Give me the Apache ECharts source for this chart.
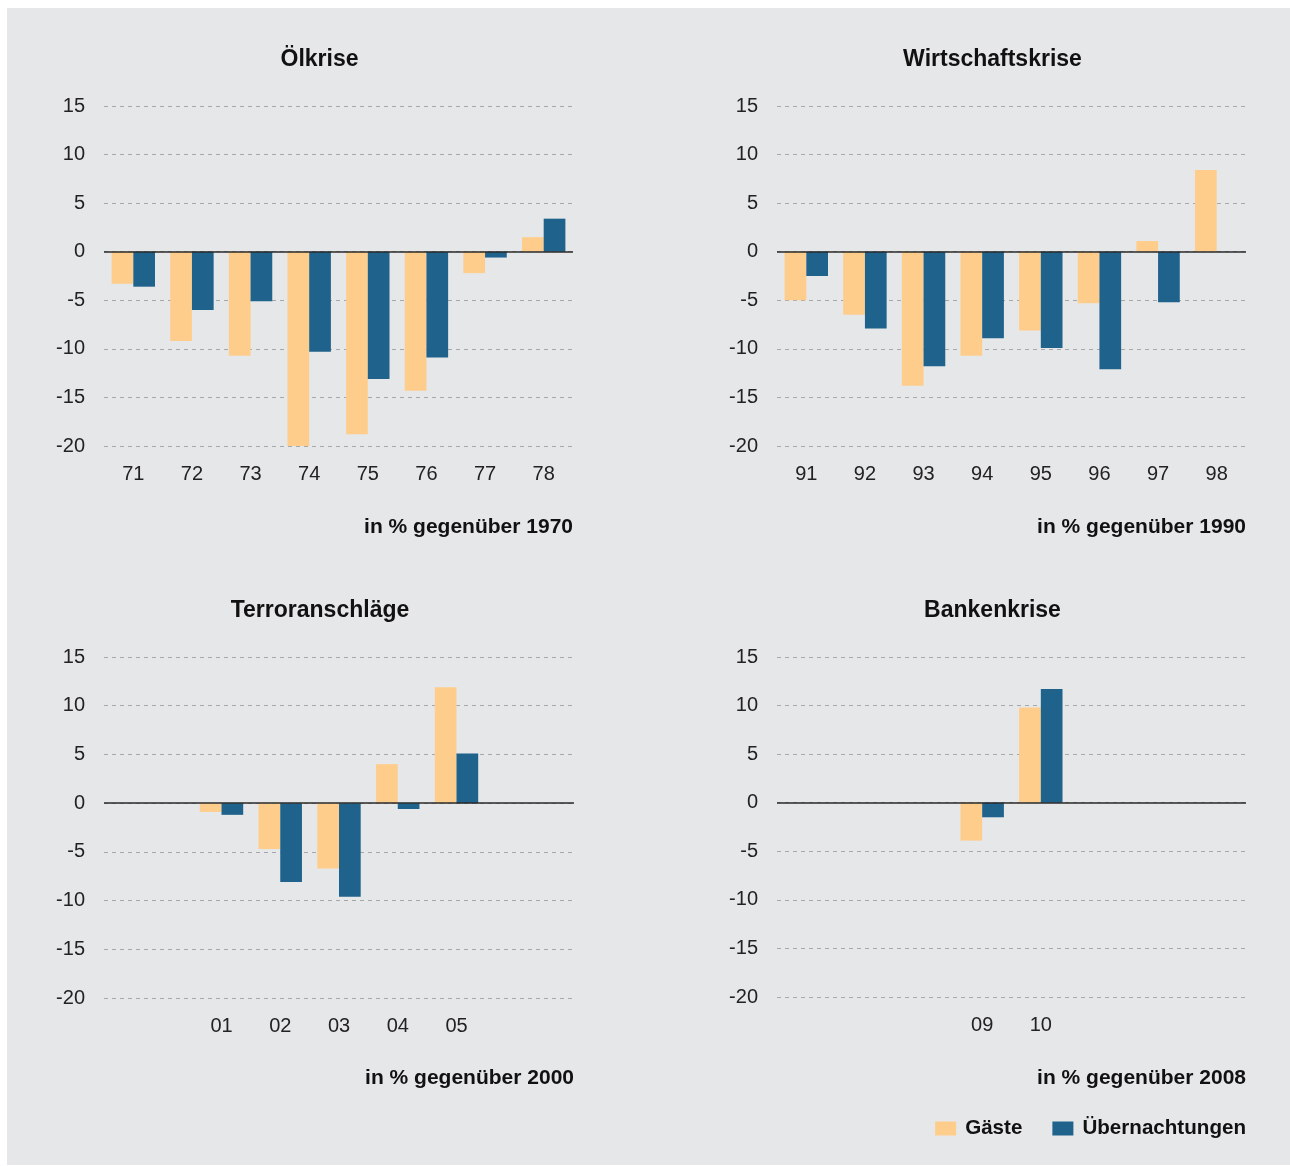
<!DOCTYPE html>
<html>
<head>
<meta charset="utf-8">
<script src="https://cdn.jsdelivr.net/npm/echarts@6/dist/echarts.min.js"></script>
<style>
  html, body { margin: 0; padding: 0; background: #fff; }
  #bg { position: absolute; left: 7px; top: 8px; width: 1283px; height: 1157px; background: #e6e7e9; }
  #main { position: absolute; left: 0; top: 0; width: 1290px; height: 1166px; }
</style>
</head>
<body>
<div id="bg"></div>
<div id="main"></div>
<script>
// Veränderung Gäste / Übernachtungen in vier Krisen
var jahre1 = ['71', '72', '73', '74', '75', '76', '77', '78'];
var gaeste1 = [-3.3, -9.2, -10.7, -20.0, -18.8, -14.3, -2.2, 1.5];
var naechte1 = [-3.6, -6.0, -5.1, -10.3, -13.1, -10.9, -0.6, 3.4];

var jahre2 = ['91', '92', '93', '94', '95', '96', '97', '98'];
var gaeste2 = [-5.0, -6.5, -13.8, -10.7, -8.1, -5.3, 1.1, 8.4];
var naechte2 = [-2.5, -7.9, -11.8, -8.9, -9.9, -12.1, -5.2, 0];

var jahre3 = ['99', '00', '01', '02', '03', '04', '05', '06', '07'];
var gaeste3 = [null, null, -0.9, -4.7, -6.7, 4.0, 11.9, null, null];
var naechte3 = [null, null, -1.2, -8.1, -9.6, -0.6, 5.1, null, null];

var jahre4 = ['06', '07', '08', '09', '10', '11', '12', '13'];
var gaeste4 = [null, null, null, -3.9, 9.8, null, null, null];
var naechte4 = [null, null, null, -1.5, 11.7, null, null, null];

var sichtbar3 = ['01', '02', '03', '04', '05'];
var sichtbar4 = ['09', '10'];

var titel = ['Ölkrise', 'Wirtschaftskrise', 'Terroranschläge', 'Bankenkrise'];
var fussnoten = ['in % gegenüber 1970', 'in % gegenüber 1990', 'in % gegenüber 2000', 'in % gegenüber 2008'];
var yMin = -20, yMax = 15, yStep = 5;

var FONT = '"Liberation Sans", Arial, sans-serif';
var FARBE_G = '#fecd8b';
var FARBE_U = '#1f628b';

var myChart = echarts.init(document.getElementById('main'));

var grids = [
    { left: 104, top: 106, width: 469, height: 340 },
    { left: 777, top: 106, width: 469, height: 340 },
    { left: 104, top: 657, width: 470, height: 341 },
    { left: 777, top: 657, width: 469, height: 340 }
];
var kategorien = [jahre1, jahre2, jahre3, jahre4];
var gaeste = [gaeste1, gaeste2, gaeste3, gaeste4];
var naechte = [naechte1, naechte2, naechte3, naechte4];
var sichtbar = [null, null, sichtbar3, sichtbar4];

var xAxes = [], yAxes = [], series = [], graphics = [];

grids.forEach(function (g, i) {
    xAxes.push({
        type: 'category',
        gridIndex: i,
        data: kategorien[i],
        boundaryGap: i !== 2,
        axisLine: { show: false },
        axisTick: { show: false },
        axisLabel: {
            interval: 0,
            margin: 18,
            fontSize: 20,
            fontFamily: FONT,
            color: '#222',
            formatter: function (v) {
                if (sichtbar[i] && sichtbar[i].indexOf(v) < 0) return '';
                return v;
            }
        },
        splitLine: { show: false }
    });
    yAxes.push({
        type: 'value',
        gridIndex: i,
        min: yMin,
        max: yMax,
        interval: yStep,
        axisLine: { show: false },
        axisTick: { show: false },
        axisLabel: { margin: 19, fontSize: 20, fontFamily: FONT, color: '#222' },
        splitLine: { lineStyle: { color: '#a6a7a9', width: 1, type: [4, 4] } }
    });
    series.push({
        name: 'Gäste',
        type: 'bar',
        xAxisIndex: i,
        yAxisIndex: i,
        data: gaeste[i],
        barWidth: 21.7,
        barGap: '0%',
        itemStyle: { color: FARBE_G },
        markLine: {
            silent: true,
            symbol: 'none',
            label: { show: false },
            lineStyle: { color: '#2a2a2a', width: 1.5, type: 'solid' },
            data: [{ yAxis: 0 }]
        }
    });
    series.push({
        name: 'Übernachtungen',
        type: 'bar',
        xAxisIndex: i,
        yAxisIndex: i,
        data: naechte[i],
        barWidth: 21.7,
        barGap: '0%',
        itemStyle: { color: FARBE_U }
    });
    graphics.push({
        type: 'text',
        x: g.left + g.width / 2 - 19,
        y: g.top - 46,
        style: {
            text: titel[i], fill: '#111',
            font: 'bold 23px ' + FONT,
            textAlign: 'center', textVerticalAlign: 'middle'
        }
    });
    graphics.push({
        type: 'text',
        x: g.left + g.width,
        y: g.top + 421,
        style: {
            text: fussnoten[i], fill: '#111',
            font: 'bold 21px ' + FONT,
            textAlign: 'right', textVerticalAlign: 'middle'
        }
    });
});

var option = {
    animation: false,
    backgroundColor: 'transparent',
    grid: grids,
    xAxis: xAxes,
    yAxis: yAxes,
    series: series,
    graphic: graphics,
    legend: {
        data: ['Gäste', 'Übernachtungen'],
        right: 44,
        top: 1118,
        padding: 0,
        icon: 'rect',
        itemWidth: 21,
        itemHeight: 14,
        itemGap: 30,
        textStyle: { fontSize: 20.6, fontWeight: 'bold', fontFamily: FONT, color: '#111', padding: [0, 0, 0, 4] }
    }
};
myChart.setOption(option);
window.onresize = myChart.resize;
</script>
</body>
</html>
